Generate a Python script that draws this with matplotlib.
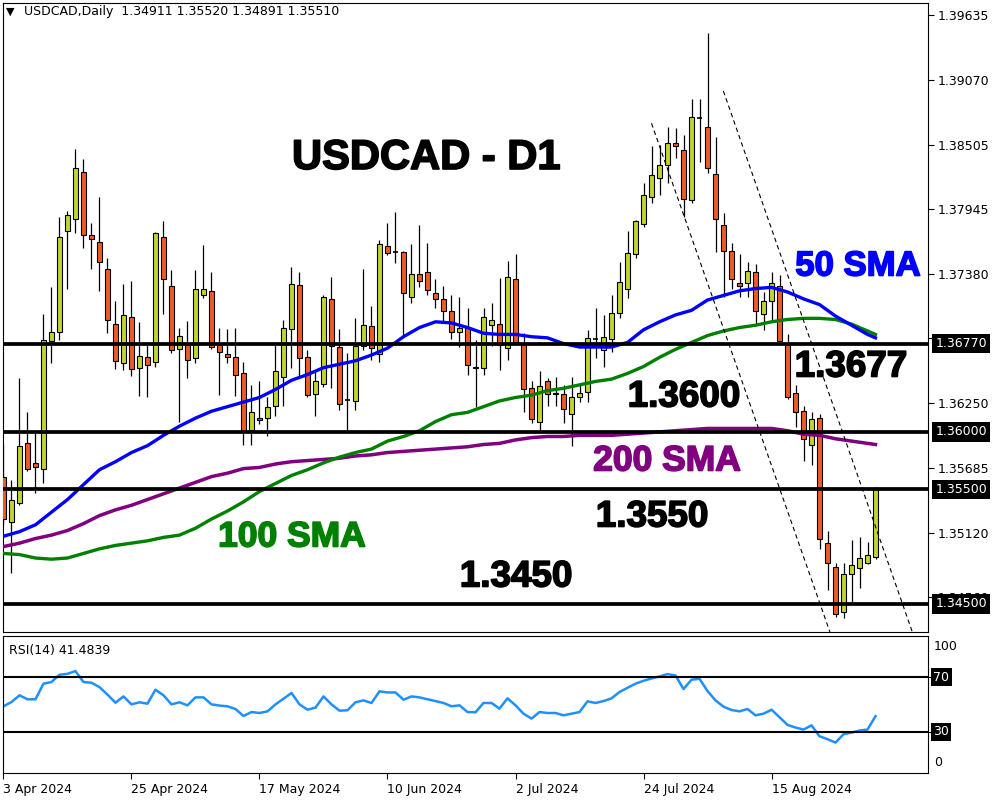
import numpy as np
import matplotlib.pyplot as plt
import matplotlib.patheffects as pe
from matplotlib.transforms import blended_transform_factory

# daily candles, 3 Apr 2024 onwards
opens = [
    1.3561, 1.3521, 1.3538, 1.3590, 1.3573, 1.3568, 1.3679, 1.3687, 1.3775, 1.3786,
    1.3827, 1.3772, 1.3766, 1.3742, 1.3694, 1.3660, 1.3700, 1.3656, 1.3665, 1.3661,
    1.3770, 1.3727, 1.3672, 1.3676, 1.3664, 1.3719, 1.3723, 1.3676, 1.3668, 1.3665,
    1.3651, 1.3602, 1.3612, 1.3612, 1.3623, 1.3648, 1.3690, 1.3728, 1.3665, 1.3633,
    1.3642, 1.3716, 1.3674, 1.3628, 1.3627, 1.3675, 1.3692, 1.3668, 1.3762, 1.3757,
    1.3757, 1.3718, 1.3738, 1.3739, 1.3721, 1.3716, 1.3705, 1.3687, 1.3691, 1.3656,
    1.3656, 1.3693, 1.3694, 1.3673, 1.3733, 1.3677, 1.3638, 1.3609, 1.3644, 1.3634,
    1.3633, 1.3616, 1.3630, 1.3635, 1.3681, 1.3671, 1.3681, 1.3704, 1.3725, 1.3755,
    1.3781, 1.3805, 1.3821, 1.3833, 1.3852, 1.3846, 1.3802, 1.3874, 1.3866, 1.3825,
    1.3780, 1.3758, 1.3730, 1.3730, 1.3739, 1.3703, 1.3714, 1.3727, 1.3676, 1.3634,
    1.3618, 1.3589, 1.3612, 1.3503, 1.3482, 1.3443, 1.3476, 1.3481, 1.3486, 1.34911,
]
highs = [
    1.3589, 1.3558, 1.3647, 1.3617, 1.3599, 1.3703, 1.3726, 1.3787, 1.3793, 1.3847,
    1.3838, 1.3782, 1.3805, 1.3752, 1.3714, 1.3729, 1.3732, 1.3696, 1.3677, 1.3774,
    1.3784, 1.3741, 1.3691, 1.3697, 1.3741, 1.3763, 1.3739, 1.3691, 1.3690, 1.3691,
    1.3661, 1.3641, 1.3644, 1.3630, 1.3677, 1.3698, 1.3744, 1.3739, 1.3671, 1.3653,
    1.3719, 1.3735, 1.3690, 1.3669, 1.3699, 1.3742, 1.3710, 1.3767, 1.3782, 1.3792,
    1.3758, 1.3764, 1.3780, 1.3765, 1.3733, 1.3727, 1.3719, 1.3718, 1.3708, 1.3680,
    1.3708, 1.3712, 1.3734, 1.3749, 1.3755, 1.3686, 1.3644, 1.3653, 1.3647, 1.3648,
    1.3641, 1.3648, 1.3641, 1.3689, 1.3708, 1.3702, 1.3719, 1.3748, 1.3775, 1.3785,
    1.3817, 1.3849, 1.3850, 1.3866, 1.3865, 1.3859, 1.3890, 1.3890, 1.3948, 1.3857,
    1.3791, 1.3765, 1.3755, 1.3748, 1.3746, 1.3722, 1.3739, 1.3737, 1.3685, 1.3641,
    1.3623, 1.3617, 1.3616, 1.3514, 1.3486, 1.3486, 1.3506, 1.3508, 1.3504, 1.35520,
]
lows = [
    1.3519, 1.3477, 1.3536, 1.3566, 1.3547, 1.3555, 1.3660, 1.3680, 1.3725, 1.3773,
    1.3760, 1.3742, 1.3723, 1.3686, 1.3655, 1.3654, 1.3649, 1.3631, 1.3630, 1.3657,
    1.3703, 1.3669, 1.3609, 1.3647, 1.3660, 1.3717, 1.3672, 1.3632, 1.3660, 1.3631,
    1.3589, 1.3589, 1.3607, 1.3596, 1.3614, 1.3623, 1.3656, 1.3648, 1.3630, 1.3614,
    1.3639, 1.3638, 1.3619, 1.3602, 1.3619, 1.3671, 1.3663, 1.3661, 1.3754, 1.3747,
    1.3683, 1.3712, 1.3726, 1.3719, 1.3708, 1.3697, 1.3681, 1.3674, 1.3650, 1.3622,
    1.3650, 1.3675, 1.3654, 1.3663, 1.3677, 1.3617, 1.3608, 1.3602, 1.3623, 1.3623,
    1.3608, 1.3588, 1.3626, 1.3626, 1.3664, 1.3657, 1.3670, 1.3699, 1.3717, 1.3752,
    1.3779, 1.3800, 1.3807, 1.3817, 1.3839, 1.3787, 1.3800, 1.3835, 1.3826, 1.3757,
    1.3718, 1.3725, 1.3718, 1.3718, 1.3693, 1.3689, 1.3698, 1.3678, 1.3629, 1.3604,
    1.3575, 1.3571, 1.3498, 1.3462, 1.3439, 1.3438, 1.3451, 1.3464, 1.3485, 1.34891,
]
closes = [
    1.3524, 1.3541, 1.3588, 1.3568, 1.3569, 1.3680, 1.3687, 1.3770, 1.3789, 1.3830,
    1.3772, 1.3768, 1.3748, 1.3698, 1.3662, 1.3702, 1.3655, 1.3666, 1.3658, 1.3773,
    1.3733, 1.3671, 1.3684, 1.3663, 1.3725, 1.3725, 1.3674, 1.3670, 1.3665, 1.3650,
    1.3601, 1.3617, 1.3610, 1.3622, 1.3653, 1.3691, 1.3729, 1.3664, 1.3632, 1.3644,
    1.3718, 1.3675, 1.3624, 1.3628, 1.3675, 1.3693, 1.3673, 1.3764, 1.3756, 1.3757,
    1.3721, 1.3738, 1.3732, 1.3724, 1.3716, 1.3705, 1.3687, 1.3691, 1.3658, 1.3657,
    1.3700, 1.3698, 1.3676, 1.3735, 1.3678, 1.3637, 1.3611, 1.3640, 1.3633, 1.3633,
    1.3620, 1.3630, 1.3634, 1.3682, 1.3681, 1.3683, 1.3704, 1.3731, 1.3756, 1.3784,
    1.3807, 1.3824, 1.3833, 1.3852, 1.3849, 1.3803, 1.3875, 1.3874, 1.3830, 1.3786,
    1.3758, 1.3733, 1.3727, 1.3740, 1.3705, 1.3714, 1.3730, 1.3679, 1.3630, 1.3617,
    1.3594, 1.3611, 1.3507, 1.3486, 1.3441, 1.3476, 1.3484, 1.3490, 1.3493, 1.35510,
]

# moving averages, read every second bar
sma_idx = list(range(0, 110, 2)) + [109]
sma50 = [
    1.3509, 1.3513, 1.3519, 1.3530, 1.3541, 1.3554, 1.3567, 1.3574, 1.3582, 1.3588,
    1.3597, 1.3605, 1.3612, 1.3618, 1.3622, 1.3626, 1.3630, 1.3637, 1.3645, 1.3650,
    1.3656, 1.3659, 1.3662, 1.3667, 1.3673, 1.3683, 1.3691, 1.3696, 1.3695, 1.3691,
    1.3686, 1.3685, 1.3685, 1.3683, 1.3682, 1.3677, 1.3674, 1.3674, 1.3674, 1.3678,
    1.3689, 1.3696, 1.3702, 1.3706, 1.3715, 1.3719, 1.3723, 1.3725, 1.3726, 1.3722,
    1.3716, 1.3711, 1.3701, 1.3693, 1.3685, 1.3682,
]
sma100 = [
    1.3494, 1.3493, 1.3490, 1.3489, 1.3490, 1.3494, 1.3498, 1.3501, 1.3503, 1.3505,
    1.3508, 1.3510, 1.3516, 1.3524, 1.3531, 1.3539, 1.3548, 1.3555, 1.3562, 1.3567,
    1.3573, 1.3578, 1.3582, 1.3585, 1.3592, 1.3596, 1.3601, 1.3609, 1.3615, 1.3617,
    1.3622, 1.3627, 1.3630, 1.3632, 1.3636, 1.3638, 1.3641, 1.3644, 1.3646, 1.3651,
    1.3657, 1.3665, 1.3672, 1.3678, 1.3684, 1.3688, 1.3691, 1.3693, 1.3696, 1.3698,
    1.3699, 1.3699, 1.3698, 1.3694, 1.3688, 1.3685,
]
sma200 = [
    1.3500, 1.3503, 1.3507, 1.3510, 1.3514, 1.3520, 1.3527, 1.3532, 1.3536, 1.3541,
    1.3546, 1.3551, 1.3556, 1.3561, 1.3564, 1.3568, 1.3569, 1.3572, 1.3574, 1.3575,
    1.3576, 1.3577, 1.3579, 1.3580, 1.3582, 1.3583, 1.3584, 1.3585, 1.3586, 1.3587,
    1.3589, 1.3590, 1.3593, 1.3595, 1.3596, 1.3596, 1.3597, 1.3597, 1.3597, 1.3598,
    1.3599, 1.3600, 1.3601, 1.3602, 1.3603, 1.3603, 1.3603, 1.3603, 1.3603, 1.3601,
    1.3598, 1.3597, 1.3594, 1.3592, 1.3590, 1.3589,
]

rsi = [
    48.7, 51.8, 56.7, 53.8, 53.8, 65.2, 66.4, 71.7, 72.4, 74.4,
    66.4, 65.9, 62.7, 57.2, 51.3, 55.9, 50.1, 51.6, 50.6, 60.8,
    56.7, 50.1, 51.6, 49.4, 55.2, 55.2, 50.1, 49.2, 48.7, 46.7,
    41.6, 44.5, 43.8, 45.0, 50.1, 54.2, 58.4, 50.1, 46.2, 47.7,
    55.9, 50.1, 45.5, 45.8, 51.6, 53.0, 51.1, 59.6, 58.8, 58.8,
    53.5, 55.9, 55.2, 53.8, 52.5, 51.1, 48.7, 49.4, 44.5, 44.3,
    51.1, 51.1, 47.0, 54.5, 49.4, 43.3, 39.7, 44.5, 43.8, 43.8,
    42.1, 43.3, 44.5, 52.3, 51.1, 52.5, 54.5, 59.1, 62.2, 65.2,
    67.3, 69.0, 70.5, 72.2, 71.2, 61.3, 68.1, 68.8, 59.8, 53.0,
    48.4, 46.0, 45.0, 46.7, 42.1, 43.3, 46.2, 40.7, 35.1, 33.2,
    31.7, 34.8, 26.8, 24.7, 22.2, 28.3, 29.5, 31.0, 31.7, 41.4839,
]

price_ticks = [1.39635, 1.39070, 1.38505, 1.37945, 1.37380,
               1.36815, 1.36250, 1.35685, 1.35120, 1.34560]
levels = [1.3677, 1.3600, 1.3550, 1.3450]
date_idx = [0, 16, 32, 48, 64, 80, 96]
date_labels = ["3 Apr 2024", "25 Apr 2024", "17 May 2024", "10 Jun 2024",
               "2 Jul 2024", "24 Jul 2024", "15 Aug 2024"]

BULL = '#c2d62e'
BEAR = '#f15a24'

fig = plt.figure(figsize=(10, 8), dpi=100)
ax = fig.add_axes([0.003, 0.21, 0.925, 0.78625])
rax = fig.add_axes([0.003, 0.03375, 0.925, 0.17125])

o = np.array(opens); h = np.array(highs); l = np.array(lows); c = np.array(closes)
x = np.arange(len(o))

# candles
ax.vlines(x, l, h, color='black', lw=0.9, zorder=2)
up = c > o
dn = c < o
flat = c == o
ax.bar(x[up], (c - o)[up], bottom=o[up], width=0.65, color=BULL,
       edgecolor='black', linewidth=0.8, zorder=3)
ax.bar(x[dn], (o - c)[dn], bottom=c[dn], width=0.65, color=BEAR,
       edgecolor='black', linewidth=0.8, zorder=3)
ax.hlines(c[flat], x[flat] - 0.35, x[flat] + 0.35, color='black', lw=1.2, zorder=3)

# moving averages
ax.plot(sma_idx, sma200, color='#800080', lw=2.5, zorder=4)
ax.plot(sma_idx, sma100, color='#008000', lw=2.4, zorder=4)
ax.plot(sma_idx, sma50, color='#0000ff', lw=2.4, zorder=4)

# support / resistance lines
for lv in levels:
    ax.axhline(lv, color='black', lw=2.7, zorder=5)

# falling channel
ax.plot([81.0, 103.3], [1.38691, 1.34255], color='black', lw=0.8, ls=(0, (4, 3)), zorder=5)
ax.plot([89.98, 113.6], [1.38973, 1.34255], color='black', lw=0.8, ls=(0, (4, 3)), zorder=5)

ax.set_xlim(-0.06, 115.56)
ax.set_ylim(1.34255, 1.39740)
ax.yaxis.tick_right()
ax.set_yticks(price_ticks)
ax.set_yticklabels([f"{v:.5f}" for v in price_ticks])
ax.tick_params(axis='y', direction='out', length=4, width=0.8, pad=3, labelsize=9)
ax.tick_params(axis='x', bottom=False, labelbottom=False)
for s in ax.spines.values():
    s.set_linewidth(0.8)

tr = blended_transform_factory(ax.transAxes, ax.transData)
for lv in levels:
    ax.text(1.0078, lv, f"{lv:.5f}", transform=tr, color='white', fontsize=9,
            va='center', ha='left', zorder=10, clip_on=False,
            bbox=dict(boxstyle='square,pad=0.25', facecolor='black', edgecolor='none'))

# RSI panel
rax.plot(x, rsi, color='#1e90ff', lw=1.8)
rax.axhline(70, color='black', lw=1.5)
rax.axhline(30, color='black', lw=1.5)
rax.set_xlim(-0.06, 115.56)
rax.set_ylim(0, 100)
rax.yaxis.tick_right()
rax.set_yticks([70, 30])
rax.set_yticklabels([])
rax.tick_params(axis='y', direction='out', length=3, width=0.8)
rax.set_xticks(date_idx)
rax.set_xticklabels(date_labels, fontsize=9)
for lab in rax.get_xticklabels():
    lab.set_ha('left')
rax.tick_params(axis='x', direction='out', length=4, width=0.8, pad=3)
for s in rax.spines.values():
    s.set_linewidth(0.8)
rtr = blended_transform_factory(rax.transAxes, rax.transData)
for v in [70, 30]:
    rax.text(1.0055, v, str(v), transform=rtr, color='white', fontsize=9,
             va='center', ha='left', clip_on=False,
             bbox=dict(boxstyle='square,pad=0.2', facecolor='black', edgecolor='none'))
rax.text(1.0065, 92.5, "100", transform=rtr, fontsize=9, va='center', ha='left')
rax.text(1.0065, 7.3, "0", transform=rtr, fontsize=9, va='center', ha='left')
rax.text(0.006, 0.94, f"RSI(14) {rsi[-1]:.4f}", transform=rax.transAxes,
         fontsize=9, va='top', ha='left')

# header
fig.text(0.006, 1 - 12 / 800, "\u25bc", fontsize=8, va='center', ha='left')
fig.text(0.024, 1 - 12 / 800,
         f"USDCAD,Daily  {opens[-1]:.5f} {highs[-1]:.5f} {lows[-1]:.5f} {closes[-1]:.5f}",
         fontsize=9, va='center', ha='left')

# annotations
def label(px, py, txt, size, col):
    fig.text(px / 1000, 1 - py / 800, txt, fontsize=size, color=col,
             family='Liberation Sans', weight='bold', ha='center', va='center',
             path_effects=[pe.withStroke(linewidth=1.2, foreground=col)])

label(426, 158, "USDCAD - D1", 30, 'black')
label(858, 266, "50 SMA", 25, '#0000ff')
label(851, 367, "1.3677", 26.5, 'black')
label(684, 397, "1.3600", 26.5, 'black')
label(667, 461, "200 SMA", 25.5, '#800080')
label(652, 517, "1.3550", 26.5, 'black')
label(292, 537, "100 SMA", 25.5, '#008000')
label(516, 577, "1.3450", 26.5, 'black')

plt.savefig("out.png", dpi=100)
